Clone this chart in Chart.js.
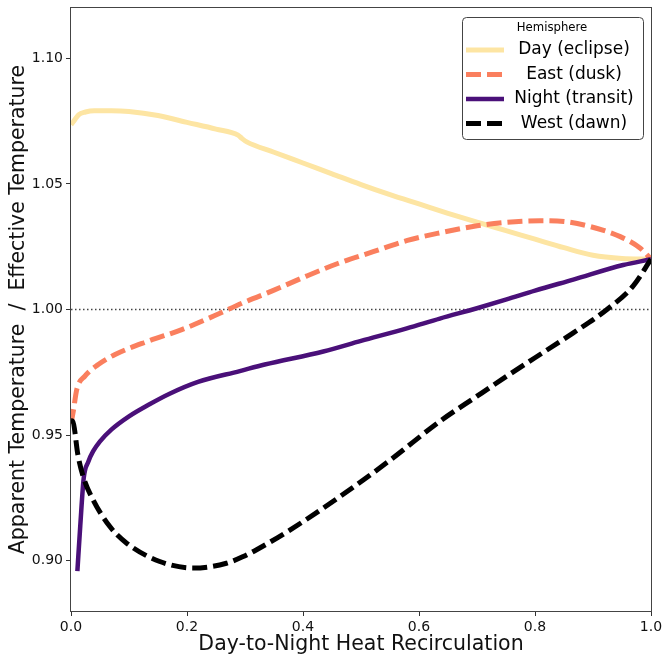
<!DOCTYPE html>
<html>
<head>
<meta charset="utf-8">
<script src="https://cdn.jsdelivr.net/npm/chart.js@4"></script>
<style>
  html, body { margin: 0; padding: 0; background: #fff; }
  canvas { display: block; }
</style>
</head>
<body>
<canvas id="grafico" width="662" height="660"></canvas>
<script>
// recirculation (x) and T_app / T_eff (y)
const dayX = [0, 0.005, 0.013, 0.025, 0.04, 0.07, 0.1, 0.15, 0.2, 0.25, 0.288, 0.295, 0.303, 0.35, 0.4, 0.45, 0.5, 0.55, 0.6, 0.65, 0.7, 0.75, 0.8, 0.85, 0.9, 0.95, 1.0];
const dayY = [1.0735, 1.0750, 1.0775, 1.0786, 1.0791, 1.0791, 1.0788, 1.0772, 1.0745, 1.0718, 1.0694, 1.0680, 1.0667, 1.0626, 1.0583, 1.0540, 1.0497, 1.0457, 1.0420, 1.0383, 1.0348, 1.0314, 1.0280, 1.0246, 1.0216, 1.0203, 1.0200];

const eastX = [0, 0.004, 0.01, 0.024, 0.047, 0.076, 0.133, 0.191, 0.248, 0.3, 0.35, 0.406, 0.46, 0.521, 0.58, 0.636, 0.7, 0.75, 0.809, 0.85, 0.895, 0.947, 0.981, 1.0];
const eastY = [0.9545, 0.9596, 0.9682, 0.9735, 0.9781, 0.9821, 0.9874, 0.9920, 0.9976, 1.0030, 1.0077, 1.0133, 1.0183, 1.0230, 1.0275, 1.0305, 1.0333, 1.0347, 1.0353, 1.0350, 1.0330, 1.0290, 1.0245, 1.0200];

const nightX = [0.011, 0.016, 0.022, 0.03, 0.038, 0.05, 0.07, 0.1, 0.133, 0.17, 0.219, 0.291, 0.334, 0.435, 0.5, 0.579, 0.636, 0.7, 0.751, 0.8, 0.866, 0.952, 1.0];
const nightY = [0.8959, 0.9140, 0.9330, 0.9395, 0.9435, 0.9475, 0.9523, 0.9575, 0.9620, 0.9665, 0.9712, 0.9755, 0.9781, 0.9833, 0.9875, 0.9925, 0.9964, 1.0005, 1.0040, 1.0075, 1.0119, 1.0177, 1.0200];

const westX = [0, 0.003, 0.012, 0.021, 0.038, 0.067, 0.096, 0.153, 0.211, 0.268, 0.297, 0.32, 0.378, 0.464, 0.55, 0.636, 0.7, 0.751, 0.8, 0.866, 0.924, 0.969, 1.0];
const westY = [0.9557, 0.9555, 0.9420, 0.9335, 0.9243, 0.9136, 0.9070, 0.8997, 0.8971, 0.8990, 0.9017, 0.9044, 0.9123, 0.9256, 0.9400, 0.9555, 0.9655, 0.9734, 0.9808, 0.9907, 1.0000, 1.0093, 1.0200];

const refX = [0, 1];
const refY = [1, 1];

const nomes = ["Day (eclipse)", "East (dusk)", "Night (transit)", "West (dawn)"];
const tituloLegenda = "Hemisphere";
const xTicks = [0, 0.2, 0.4, 0.6, 0.8, 1.0];
const yTicks = [0.90, 0.95, 1.00, 1.05, 1.10];

const pts = (xs, ys) => xs.map((x, i) => ({ x, y: ys[i] }));

Chart.defaults.font.family = "'DejaVu Sans', sans-serif";
Chart.defaults.color = "#111";

const legendaHemisferio = {
  id: "legendaHemisferio",
  afterDatasetsDraw(chart) {
    const ctx = chart.ctx, a = chart.chartArea;
    // spines on all four sides
    ctx.save();
    ctx.strokeStyle = "#444";
    ctx.lineWidth = 1;
    ctx.strokeRect(Math.round(a.left) - 0.5, Math.round(a.top) - 0.5, Math.round(a.right - a.left) + 1, Math.round(a.bottom - a.top) + 1);

    const w = 181, h = 122;
    const left = Math.round(a.right) - 8 - w, top = Math.round(a.top) + 9;
    ctx.beginPath();
    ctx.roundRect(left + 0.5, top + 0.5, w, h, 4);
    ctx.fillStyle = "rgba(255,255,255,0.85)";
    ctx.fill();
    ctx.strokeStyle = "#444";
    ctx.stroke();

    ctx.fillStyle = "#000";
    ctx.textAlign = "center";
    ctx.textBaseline = "middle";
    ctx.font = "11.7px 'DejaVu Sans'";
    ctx.fillText(tituloLegenda, left + 90, top + 11);

    chart.data.datasets.filter(d => d.label).forEach((d, i) => {
      const y = top + 33 + i * 24.5;
      ctx.beginPath();
      ctx.setLineDash(d.borderDash || []);
      ctx.lineWidth = d.borderWidth;
      ctx.strokeStyle = d.borderColor;
      ctx.moveTo(left + 4, y);
      ctx.lineTo(left + 42, y);
      ctx.stroke();
      ctx.setLineDash([]);
      ctx.font = "17px 'DejaVu Sans'";
      ctx.fillText(d.label, left + 112, y);
    });
    ctx.restore();
  }
};

const serie = (label, xs, ys, cor, largura, dash, ordem) => ({
  label, data: pts(xs, ys), borderColor: cor, backgroundColor: cor,
  borderWidth: largura, borderDash: dash, borderCapStyle: "butt",
  pointRadius: 0, cubicInterpolationMode: "monotone", fill: false, order: ordem
});

// fixed axis boxes, no extra room for overhanging labels
const semPadding = s => { s.paddingLeft = s.paddingRight = s.paddingTop = s.paddingBottom = 0; };

new Chart(document.getElementById("grafico"), {
  type: "line",
  data: {
    datasets: [
      { label: "", data: pts(refX, refY), borderColor: "#444", borderWidth: 1.5, borderDash: [1.5, 2.5], pointRadius: 0, order: 5 },
      serie(nomes[0], dayX, dayY, "#fde5a3", 5, [], 4),
      serie(nomes[1], eastX, eastY, "#fa7f5e", 5, [15, 6], 3),
      serie(nomes[2], nightX, nightY, "#4a1079", 4.5, [], 2),
      serie(nomes[3], westX, westY, "#000000", 5, [15, 6], 1)
    ]
  },
  options: {
    responsive: false,
    devicePixelRatio: 1,
    animation: false,
    layout: { padding: { top: 8, right: 11, left: 0, bottom: 0 } },
    plugins: { legend: { display: false }, tooltip: { enabled: false } },
    scales: {
      x: {
        type: "linear", min: 0, max: 1,
        afterBuildTicks: s => { s.ticks = xTicks.map(v => ({ value: v })); },
        afterFit: s => { s.height = 49; semPadding(s); },
        ticks: { callback: v => v.toFixed(1), font: { size: 14 }, color: "#111", maxRotation: 0, autoSkip: false, padding: 3 },
        grid: { drawOnChartArea: false, drawTicks: true, tickLength: 5, color: "#333" },
        border: { display: false },
        title: { display: true, text: "Day-to-Night Heat Recirculation", font: { size: 20.5 }, color: "#111", padding: { top: 0, bottom: 3 } }
      },
      y: {
        type: "linear", min: 0.88, max: 1.12,
        afterBuildTicks: s => { s.ticks = yTicks.map(v => ({ value: v })); },
        afterFit: s => { s.width = 71; semPadding(s); },
        ticks: { callback: v => v.toFixed(2), font: { size: 14 }, color: "#111", padding: 3 },
        grid: { drawOnChartArea: false, drawTicks: true, tickLength: 5, color: "#333" },
        border: { display: false },
        title: { display: true, text: "Apparent Temperature  /  Effective Temperature", font: { size: 20.5 }, color: "#111", padding: { top: 6, bottom: 0 } }
      }
    }
  },
  plugins: [legendaHemisferio]
});
</script>
</body>
</html>
